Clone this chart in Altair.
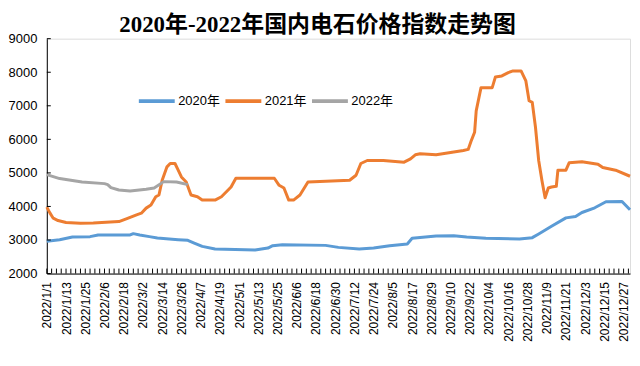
import json
import altair as alt
import pandas as pd

# ---------------- data ----------------
series_names = ["2020年", "2021年", "2022年"]
series_colors = ["#5B9BD5", "#ED7D31", "#A5A5A5"]

dates_2020 = ["2022-01-01", "2022-01-09", "2022-01-17", "2022-01-28", "2022-02-02",
              "2022-02-22", "2022-02-24", "2022-02-28", "2022-03-06", "2022-03-11",
              "2022-03-24", "2022-03-30", "2022-04-03", "2022-04-08", "2022-04-16",
              "2022-05-11", "2022-05-19", "2022-05-22", "2022-05-28", "2022-06-24",
              "2022-07-02", "2022-07-15", "2022-07-24", "2022-08-03", "2022-08-14",
              "2022-08-17", "2022-09-01", "2022-09-12", "2022-09-20", "2022-10-02",
              "2022-10-23", "2022-10-31", "2022-11-04", "2022-11-12", "2022-11-21",
              "2022-11-27", "2022-12-01", "2022-12-09", "2022-12-16", "2022-12-26",
              "2022-12-31"]
values_2020 = [2960, 3010, 3090, 3100, 3150,
               3150, 3190, 3150, 3100, 3060,
               3010, 2990, 2910, 2810, 2730,
               2700, 2760, 2830, 2860, 2840,
               2780, 2730, 2760, 2830, 2880,
               3050, 3120, 3130, 3090, 3050,
               3030, 3070, 3180, 3410, 3660,
               3700, 3820, 3960, 4140, 4150,
               3900]

dates_2021 = ["2022-01-01", "2022-01-03", "2022-01-05", "2022-01-08", "2022-01-13",
              "2022-01-22", "2022-01-30", "2022-02-15", "2022-02-20", "2022-02-26",
              "2022-03-01", "2022-03-04", "2022-03-07", "2022-03-10", "2022-03-12",
              "2022-03-14", "2022-03-17", "2022-03-19", "2022-03-22", "2022-03-24",
              "2022-03-26", "2022-03-29", "2022-04-01", "2022-04-05", "2022-04-08",
              "2022-04-16", "2022-04-20", "2022-04-26", "2022-04-29", "2022-05-23",
              "2022-05-26", "2022-05-29", "2022-06-01", "2022-06-04", "2022-06-08",
              "2022-06-13", "2022-07-09", "2022-07-13", "2022-07-16", "2022-07-20",
              "2022-07-30", "2022-08-12", "2022-08-16", "2022-08-19", "2022-08-22",
              "2022-09-01", "2022-09-12", "2022-09-18", "2022-09-21", "2022-09-23",
              "2022-09-25", "2022-09-26", "2022-09-29", "2022-10-06", "2022-10-08",
              "2022-10-12", "2022-10-16", "2022-10-19", "2022-10-24", "2022-10-27",
              "2022-10-29", "2022-10-31", "2022-11-02", "2022-11-04", "2022-11-06",
              "2022-11-08", "2022-11-10", "2022-11-12", "2022-11-15", "2022-11-16",
              "2022-11-21", "2022-11-23", "2022-12-01", "2022-12-11", "2022-12-14",
              "2022-12-22", "2022-12-31"]
values_2021 = [3980, 3800, 3650, 3580, 3520,
               3500, 3510, 3550, 3640, 3750,
               3800, 3950, 4040, 4290, 4340,
               4780, 5180, 5280, 5280, 5080,
               4880, 4730, 4340, 4290, 4190,
               4190, 4290, 4580, 4840, 4840,
               4630, 4550, 4190, 4190, 4340,
               4730, 4780, 4930, 5280, 5370,
               5370, 5320, 5420, 5540, 5570,
               5540, 5620, 5670, 5700, 5970,
               6210, 6850, 7540, 7540, 7860,
               7890, 7990, 8040, 8040, 7740,
               7150, 7100, 6360, 5370, 4780,
               4260, 4550, 4580, 4600, 5080,
               5080, 5300, 5330, 5260, 5160,
               5080, 4900]

dates_2022 = ["2022-01-01", "2022-01-09", "2022-01-23", "2022-02-06", "2022-02-08",
              "2022-02-10", "2022-02-15", "2022-02-22", "2022-03-04", "2022-03-09",
              "2022-03-15", "2022-03-23", "2022-03-30"]
values_2022 = [4950, 4830, 4730, 4680, 4650,
               4560, 4490, 4460, 4510, 4550,
               4740, 4730, 4650]

x_labels = ["2022/1/1", "2022/1/13", "2022/1/25", "2022/2/6", "2022/2/18", "2022/3/2",
            "2022/3/14", "2022/3/26", "2022/4/7", "2022/4/19", "2022/5/1", "2022/5/13",
            "2022/5/25", "2022/6/6", "2022/6/18", "2022/6/30", "2022/7/12", "2022/7/24",
            "2022/8/5", "2022/8/17", "2022/8/29", "2022/9/10", "2022/9/22", "2022/10/4",
            "2022/10/16", "2022/10/28", "2022/11/9", "2022/11/21", "2022/12/3",
            "2022/12/15", "2022/12/27"]
y_ticks = [2000, 3000, 4000, 5000, 6000, 7000, 8000, 9000]

# ---------------- build table ----------------
start = pd.Timestamp("2022-01-01")


def frame(name, dates, values):
    d = pd.DataFrame({"date": dates, "value": values})
    d["day"] = (pd.to_datetime(d["date"]) - start).dt.days
    d["series"] = name
    return d


df = pd.concat([
    frame(series_names[0], dates_2020, values_2020),
    frame(series_names[1], dates_2021, values_2021),
    frame(series_names[2], dates_2022, values_2022),
], ignore_index=True)

label_days = [i * 12 for i in range(len(x_labels))]
minor_days = pd.DataFrame({"day": list(range(0, 364, 3))})
ytick_df = pd.DataFrame({"value": y_ticks})

W, H = 586, 236
FONT = "Liberation Sans, Noto Sans CJK SC"

x_scale = alt.Scale(domain=[0, 364], nice=False, zero=False)
y_scale = alt.Scale(domain=[2000, 9000], nice=False, zero=False)

label_expr = json.dumps(x_labels) + "[round(datum.value / 12)]"

x_axis = alt.Axis(values=label_days, labelExpr=label_expr, title=None,
                  grid=False, ticks=False, domainColor="black",
                  labelAngle=270, labelAlign="right", labelBaseline="middle",
                  labelPadding=8, labelFontSize=12, labelFont=FONT,
                  labelColor="black", labelOverlap=False, labelBound=False,
                  labelFlush=False)
y_axis = alt.Axis(values=y_ticks, format="d", title=None, grid=False,
                  ticks=False, domainColor="black", labelPadding=10,
                  labelFontSize=13, labelFont=FONT, labelColor="black",
                  labelOverlap=False, labelBound=False, labelFlush=False)

lines = alt.Chart(df).mark_line(strokeWidth=3, strokeJoin="round").encode(
    x=alt.X("day:Q", scale=x_scale, axis=x_axis),
    y=alt.Y("value:Q", scale=y_scale, axis=y_axis),
    color=alt.Color("series:N",
                    scale=alt.Scale(domain=series_names, range=series_colors),
                    legend=alt.Legend(title=None, orient="none", direction="horizontal",
                                      legendX=90, legendY=42, symbolType="stroke",
                                      symbolSize=1300, symbolStrokeWidth=4,
                                      labelFontSize=13, labelFont=FONT,
                                      labelColor="black", columnPadding=-3,
                                      labelOffset=1)),
    detail="series:N",
    order="day:Q",
)

x_minor = alt.Chart(minor_days).mark_rule(color="black", strokeWidth=1).encode(
    x=alt.X("day:Q", scale=x_scale, axis=x_axis),
    y=alt.value(H),
    y2=alt.value(H - 5),
)

y_minor = alt.Chart(ytick_df).mark_rule(color="black", strokeWidth=1).encode(
    y=alt.Y("value:Q", scale=y_scale, axis=y_axis),
    x=alt.value(0),
    x2=alt.value(4),
)

chart = alt.layer(lines, x_minor, y_minor).properties(
    width=W,
    height=H,
    title=alt.TitleParams(
        "2020年-2022年国内电石价格指数走势图",
        fontSize=23,
        font="Liberation Serif, Noto Sans CJK SC",
        fontWeight="bold",
        color="black",
        anchor="middle",
        frame="group",
        dx=-21,
        dy=6,
        offset=2,
    ),
    padding={"left": 39, "top": 30, "right": 2, "bottom": 80},
    autosize=alt.AutoSizeParams(type="none"),
).configure_view(stroke=None).configure(background="white")

chart.save("out.html", embed_options={"renderer": "svg", "actions": False})
